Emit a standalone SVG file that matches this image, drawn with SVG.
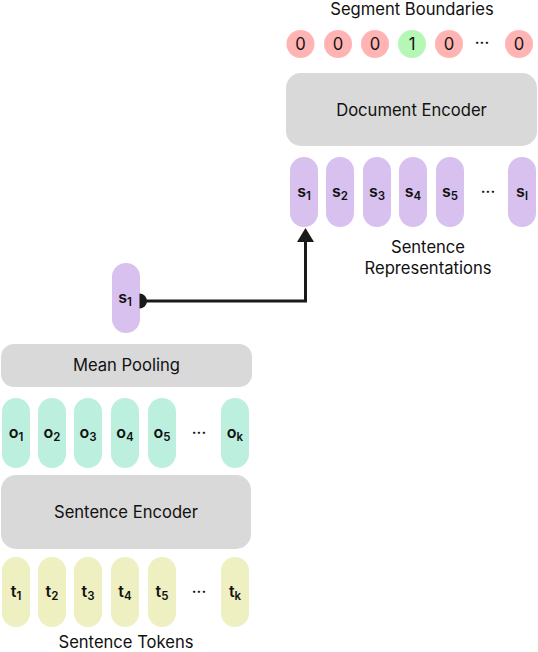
<svg xmlns="http://www.w3.org/2000/svg" width="538" height="652" viewBox="0 0 538 652">
<defs>
<style>
text{font-family:Inter,"Noto Sans","Liberation Sans",sans-serif;fill:#111;text-anchor:middle}
.lbl{font-size:16.6px}
.box{fill:#d9d9d9}
.pS{fill:#d8c0ef}
.pO{fill:#bdefdf}
.pT{fill:#eef0c2}
.c0{fill:#ffb3b3}
.c1{fill:#b5f7b5}
.tok{font-size:16px;font-weight:600}
.sub{font-size:11.5px}
.dots{font-size:15px;font-weight:600}
</style>
</defs>

<g id="segment-boundaries">
<text class="lbl" x="412" y="15">Segment Boundaries</text>
<circle class="c0" cx="300.5" cy="44" r="14"/><text class="lbl" x="300.5" y="50">0</text>
<circle class="c0" cx="338" cy="44" r="14"/><text class="lbl" x="338" y="50">0</text>
<circle class="c0" cx="375" cy="44" r="14"/><text class="lbl" x="375" y="50">0</text>
<circle class="c1" cx="412" cy="44" r="14"/><text class="lbl" x="412" y="50">1</text>
<circle class="c0" cx="449" cy="44" r="14"/><text class="lbl" x="449" y="50">0</text>
<text class="dots" x="482" y="48">···</text>
<circle class="c0" cx="519" cy="44" r="14"/><text class="lbl" x="519" y="50">0</text>
</g>

<g id="document-encoder">
<rect class="box" x="286" y="73" width="251" height="73" rx="15"/>
<text class="lbl" x="411.5" y="115.5">Document Encoder</text>
</g>

<g id="sentence-representations">
<rect class="pS" x="290" y="157" width="28" height="70" rx="14"/><text class="tok" x="304" y="197">s<tspan class="sub" dy="3">1</tspan></text>
<rect class="pS" x="326" y="157" width="28" height="70" rx="14"/><text class="tok" x="340" y="197">s<tspan class="sub" dy="3">2</tspan></text>
<rect class="pS" x="363" y="157" width="28" height="70" rx="14"/><text class="tok" x="377" y="197">s<tspan class="sub" dy="3">3</tspan></text>
<rect class="pS" x="399" y="157" width="28" height="70" rx="14"/><text class="tok" x="413" y="197">s<tspan class="sub" dy="3">4</tspan></text>
<rect class="pS" x="436" y="157" width="28" height="70" rx="14"/><text class="tok" x="450" y="197">s<tspan class="sub" dy="3">5</tspan></text>
<text class="dots" x="488" y="197">···</text>
<rect class="pS" x="508" y="157" width="28" height="70" rx="14"/><text class="tok" x="522" y="197">s<tspan class="sub" dy="3">l</tspan></text>
<text class="lbl" x="428" y="253">Sentence</text>
<text class="lbl" x="428" y="274">Representations</text>
</g>

<g id="pooled-s1">
<rect class="pS" x="112" y="263" width="28" height="70" rx="14"/>
<text class="tok" x="125" y="303">s<tspan class="sub" dy="3">1</tspan></text>
</g>

<g id="mean-pooling">
<rect class="box" x="1" y="344" width="251" height="43" rx="13"/>
<text class="lbl" x="126.5" y="371">Mean Pooling</text>
</g>

<g id="outputs">
<rect class="pO" x="2" y="398" width="28" height="70" rx="14"/><text class="tok" x="16" y="438">o<tspan class="sub" dy="3">1</tspan></text>
<rect class="pO" x="38" y="398" width="28" height="70" rx="14"/><text class="tok" x="52" y="438">o<tspan class="sub" dy="3">2</tspan></text>
<rect class="pO" x="74" y="398" width="28" height="70" rx="14"/><text class="tok" x="88" y="438">o<tspan class="sub" dy="3">3</tspan></text>
<rect class="pO" x="111" y="398" width="28" height="70" rx="14"/><text class="tok" x="125" y="438">o<tspan class="sub" dy="3">4</tspan></text>
<rect class="pO" x="148" y="398" width="28" height="70" rx="14"/><text class="tok" x="162" y="438">o<tspan class="sub" dy="3">5</tspan></text>
<text class="dots" x="199" y="438">···</text>
<rect class="pO" x="221" y="398" width="28" height="70" rx="14"/><text class="tok" x="235" y="438">o<tspan class="sub" dy="3">k</tspan></text>
</g>

<g id="sentence-encoder">
<rect class="box" x="1" y="475" width="250" height="74" rx="15"/>
<text class="lbl" x="126" y="517.5">Sentence Encoder</text>
</g>

<g id="tokens">
<rect class="pT" x="2" y="557" width="28" height="70" rx="14"/><text class="tok" x="16" y="597">t<tspan class="sub" dy="3">1</tspan></text>
<rect class="pT" x="38" y="557" width="28" height="70" rx="14"/><text class="tok" x="52" y="597">t<tspan class="sub" dy="3">2</tspan></text>
<rect class="pT" x="74" y="557" width="28" height="70" rx="14"/><text class="tok" x="88" y="597">t<tspan class="sub" dy="3">3</tspan></text>
<rect class="pT" x="111" y="557" width="28" height="70" rx="14"/><text class="tok" x="125" y="597">t<tspan class="sub" dy="3">4</tspan></text>
<rect class="pT" x="148" y="557" width="28" height="70" rx="14"/><text class="tok" x="162" y="597">t<tspan class="sub" dy="3">5</tspan></text>
<text class="dots" x="199" y="597">···</text>
<rect class="pT" x="221" y="557" width="28" height="70" rx="14"/><text class="tok" x="235" y="597">t<tspan class="sub" dy="3">k</tspan></text>
<text class="lbl" x="126" y="648">Sentence Tokens</text>
</g>

<g id="connectors">
<path d="M140,301 H305.5 V242" fill="none" stroke="#1a1a1a" stroke-width="3"/>
<path d="M139.5,293.5 A7.5,7.5 0 0 1 139.5,308.5 Z" fill="#1a1a1a"/>
<path d="M297,242 L305.5,228 L314,242 Z" fill="#1a1a1a"/>
</g>
</svg>
